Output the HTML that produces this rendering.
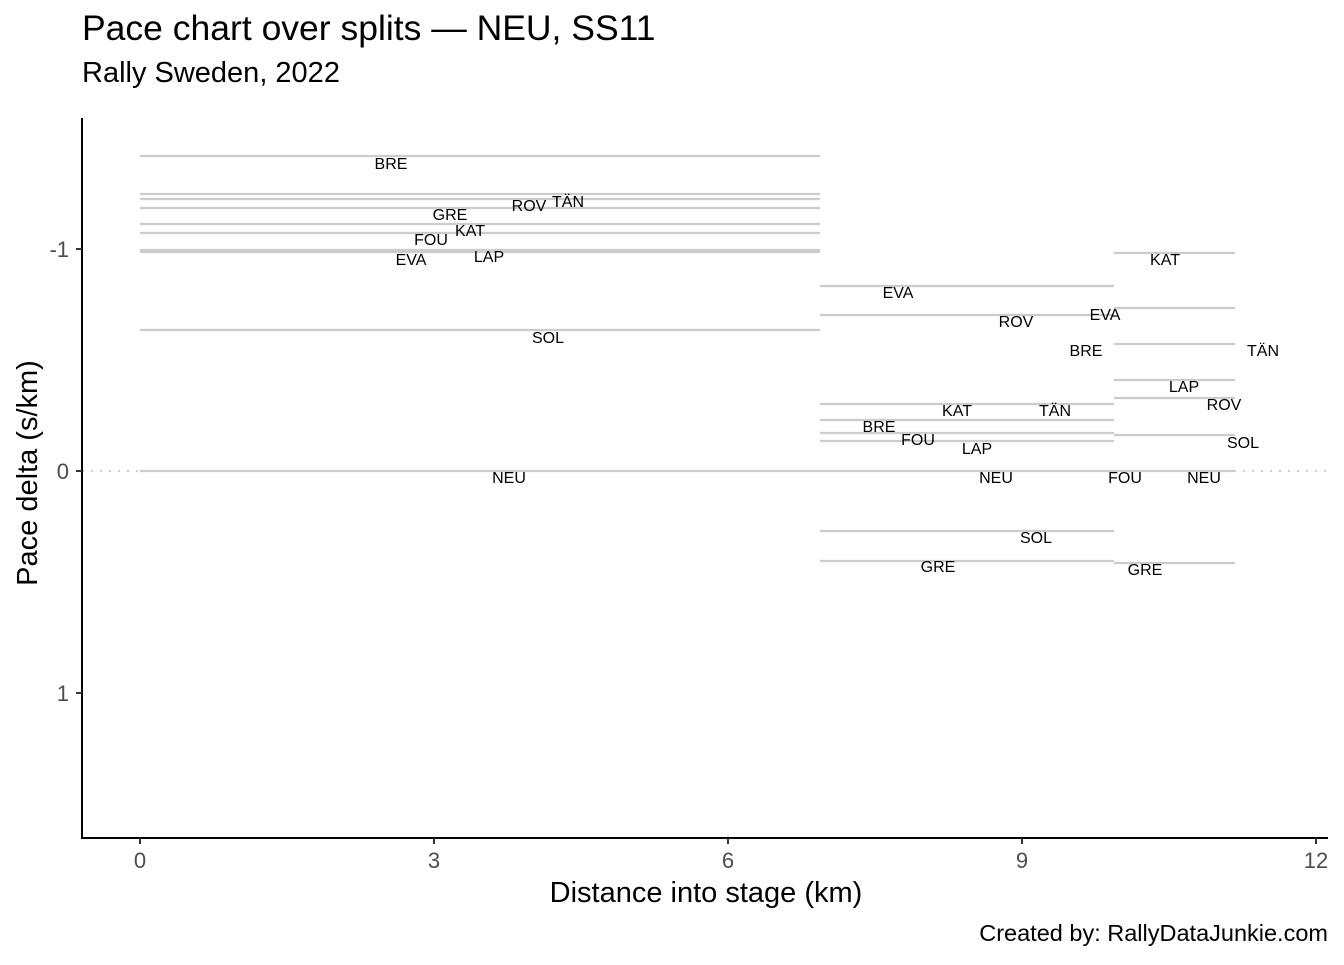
<!DOCTYPE html>
<html><head><meta charset="utf-8"><style>body{margin:0;background:#fff}</style></head><body>
<svg width="1344" height="960" xmlns="http://www.w3.org/2000/svg" font-family="Liberation Sans, Arial, sans-serif">
<rect width="1344" height="960" fill="#fff"/>
<text x="82" y="40" font-size="35.5" fill="#000">Pace chart over splits — NEU, SS11</text>
<text x="82" y="82" font-size="29" fill="#000">Rally Sweden, 2022</text>
<line x1="82" y1="471" x2="1328" y2="471" stroke="#d0d0d0" stroke-width="2" stroke-dasharray="2,7"/>
<g stroke="#cccccc" stroke-width="2.2">
<line x1="140" x2="820" y1="156" y2="156"/><line x1="140" x2="820" y1="194" y2="194"/>
<line x1="140" x2="820" y1="199" y2="199"/><line x1="140" x2="820" y1="208" y2="208"/>
<line x1="140" x2="820" y1="224" y2="224"/><line x1="140" x2="820" y1="233" y2="233"/>
<line x1="140" x2="820" y1="250" y2="250"/><line x1="140" x2="820" y1="252" y2="252"/>
<line x1="140" x2="820" y1="330" y2="330"/><line x1="140" x2="820" y1="471" y2="471"/>
<line x1="820" x2="1114" y1="286" y2="286"/><line x1="820" x2="1114" y1="315" y2="315"/>
<line x1="820" x2="1114" y1="404" y2="404"/><line x1="820" x2="1114" y1="420" y2="420"/>
<line x1="820" x2="1114" y1="433" y2="433"/><line x1="820" x2="1114" y1="441" y2="441"/>
<line x1="820" x2="1114" y1="471" y2="471"/><line x1="820" x2="1114" y1="531" y2="531"/>
<line x1="820" x2="1114" y1="561" y2="561"/>
<line x1="1114" x2="1235" y1="253" y2="253"/><line x1="1114" x2="1235" y1="308" y2="308"/>
<line x1="1114" x2="1235" y1="344" y2="344"/><line x1="1114" x2="1235" y1="380" y2="380"/>
<line x1="1114" x2="1235" y1="398" y2="398"/><line x1="1114" x2="1235" y1="435" y2="435"/>
<line x1="1114" x2="1235" y1="471" y2="471"/><line x1="1114" x2="1235" y1="563" y2="563"/>
</g>
<g font-size="16" fill="#000" text-anchor="middle" dominant-baseline="middle">
<text x="391" y="165">BRE</text><text x="529" y="207">ROV</text><text x="568" y="203">TÄN</text>
<text x="450" y="216">GRE</text><text x="470" y="232">KAT</text><text x="431" y="241">FOU</text>
<text x="489" y="258">LAP</text><text x="411" y="261">EVA</text><text x="548" y="339">SOL</text>
<text x="509" y="479">NEU</text>
<text x="898" y="294">EVA</text><text x="1016" y="323">ROV</text><text x="957" y="412">KAT</text>
<text x="1055" y="412">TÄN</text><text x="879" y="428">BRE</text><text x="918" y="441">FOU</text>
<text x="977" y="450">LAP</text><text x="996" y="479">NEU</text><text x="1036" y="539">SOL</text>
<text x="938" y="568">GRE</text>
<text x="1165" y="261">KAT</text><text x="1105" y="316">EVA</text><text x="1086" y="352">BRE</text>
<text x="1263" y="352">TÄN</text><text x="1184" y="388">LAP</text><text x="1224" y="406">ROV</text>
<text x="1243" y="444">SOL</text><text x="1125" y="479">FOU</text><text x="1204" y="479">NEU</text>
<text x="1145" y="571">GRE</text>
</g>
<line x1="82" y1="118" x2="82" y2="839" stroke="#000" stroke-width="2"/>
<line x1="81" y1="838" x2="1328" y2="838" stroke="#000" stroke-width="2"/>
<g stroke="#333" stroke-width="2">
<line x1="76" x2="82" y1="249" y2="249"/><line x1="76" x2="82" y1="471" y2="471"/><line x1="76" x2="82" y1="693" y2="693"/>
<line x1="140" x2="140" y1="838" y2="844"/><line x1="434" x2="434" y1="838" y2="844"/><line x1="728" x2="728" y1="838" y2="844"/>
<line x1="1022" x2="1022" y1="838" y2="844"/><line x1="1316" x2="1316" y1="838" y2="844"/>
</g>
<g font-size="22" fill="#4d4d4d">
<g text-anchor="end"><text x="69" y="257">-1</text><text x="69" y="479">0</text><text x="69" y="701">1</text></g>
<g text-anchor="middle"><text x="140" y="868">0</text><text x="434" y="868">3</text><text x="728" y="868">6</text><text x="1022" y="868">9</text><text x="1316" y="868">12</text></g>
</g>
<text x="706" y="902" font-size="29" text-anchor="middle" fill="#000">Distance into stage (km)</text>
<text transform="translate(37,473) rotate(-90)" font-size="29" text-anchor="middle" fill="#000">Pace delta (s/km)</text>
<text x="1328" y="941" font-size="23.5" text-anchor="end" fill="#000">Created by: RallyDataJunkie.com</text>
</svg>
</body></html>
